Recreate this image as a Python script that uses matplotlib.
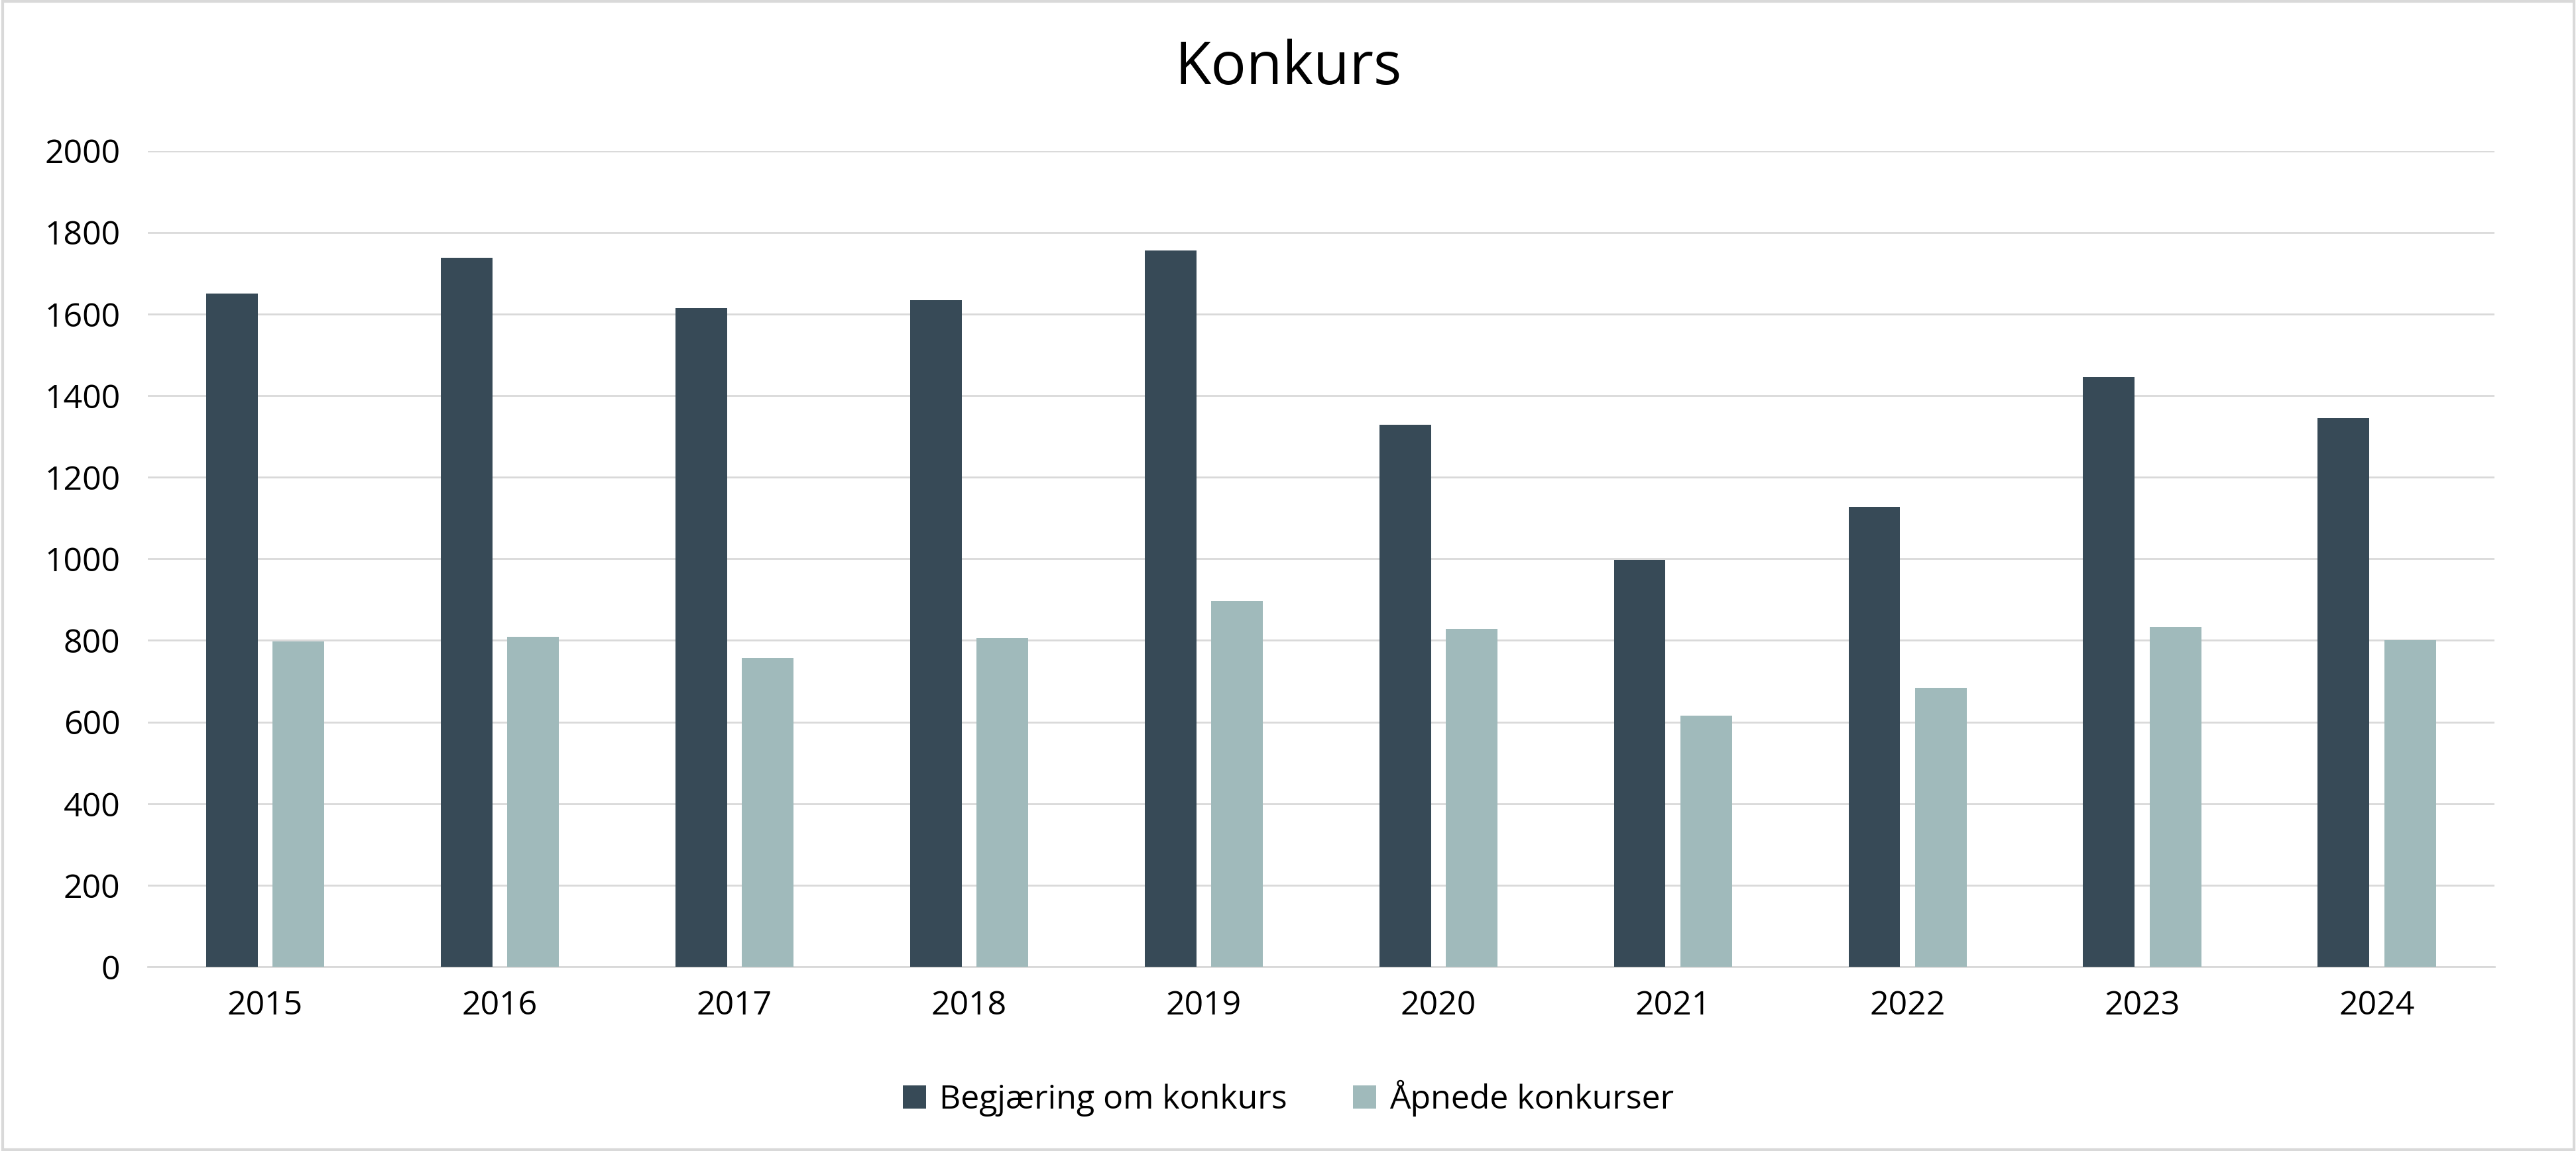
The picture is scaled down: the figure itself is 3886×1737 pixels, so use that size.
import matplotlib
matplotlib.use("Agg")
import matplotlib.pyplot as plt
import numpy as np

years = ["2015","2016","2017","2018","2019","2020","2021","2022","2023","2024"]
begjaering = [1650, 1738, 1614, 1634, 1755, 1328, 998, 1127, 1445, 1344]
apnede = [797, 809, 757, 805, 897, 829, 616, 684, 833, 801]

plt.rcParams['font.family'] = ['Open Sans', 'DejaVu Sans']
fig = plt.figure(figsize=(38.87, 17.37), dpi=100)
ax = fig.add_axes([0.0574, 0.160, 0.9106, 0.709])
x = np.arange(len(years))
w = 0.22
ax.bar(x - 0.142, begjaering, w, color='#374a57', label='Begjæring om konkurs', zorder=3)
ax.bar(x + 0.142, apnede, w, color='#a0babb', label='Åpnede konkurser', zorder=3)
ax.set_xlim(-0.5, len(years) - 0.5)
ax.set_ylim(0, 2000)
ax.set_yticks(range(0, 2001, 200))
ax.set_xticks(x)
ax.set_xticklabels(years)
ax.grid(axis='y', color='#d9d9d9', linewidth=2, zorder=0)
for s in ['top', 'right', 'left']:
    ax.spines[s].set_visible(False)
ax.spines['bottom'].set_color('#d9d9d9')
ax.spines['bottom'].set_linewidth(2)
ax.tick_params(axis='both', length=0, labelsize=36, colors='black')
ax.tick_params(axis='x', pad=25)
ax.tick_params(axis='y', pad=30)
fig.text(0.5, 0.94, 'Konkurs', ha='center', va='center', fontsize=64)
fig.legend(loc='center', bbox_to_anchor=(0.5, 0.046), ncol=2, frameon=False,
           fontsize=36, handlelength=0.7, handleheight=0.7, columnspacing=2, handletextpad=0.4)
fig.patches.append(plt.Rectangle((0.001, 0.001), 0.998, 0.998, transform=fig.transFigure,
                                 fill=False, edgecolor='#d9d9d9', linewidth=3))
fig.savefig('out.png', dpi=100, facecolor='white')
